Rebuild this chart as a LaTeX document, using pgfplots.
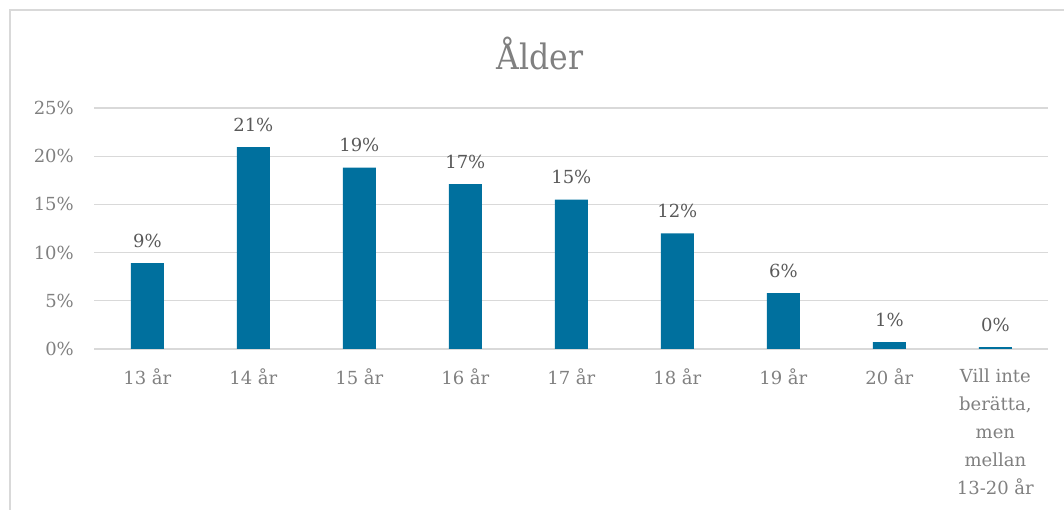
\documentclass[border=0pt]{standalone}
\usepackage{fontspec}
\setmainfont{DejaVu Serif}
\newfontfamily\titlefont{DejaVu Serif Condensed}
\usepackage{pgfplots}
\pgfplotsset{compat=1.18}
\definecolor{barblue}{RGB}{0,112,158}
\definecolor{gridgray}{RGB}{217,217,217}
\definecolor{ticktext}{RGB}{128,128,128}
\definecolor{labeltext}{RGB}{89,89,89}
\begin{document}
\begin{tikzpicture}[x=1pt,y=1pt]
\useasboundingbox (0,0) rectangle (1064,509);
% chart frame, cropped at right and bottom like the original
\draw[gridgray, line width=1.2pt] (10,-20) rectangle (1090,499);
\node[font=\titlefont\fontsize{35}{40}\selectfont, text=ticktext] at (540,455) {Ålder};
\begin{axis}[
    at={(89,166)}, anchor=south west,
    scale only axis, width=954pt, height=241pt,
    xmin=-0.5, xmax=8.5, ymin=0, ymax=25,
    ybar, bar width=33pt,
    axis x line*=bottom, axis y line*=left,
    x axis line style={gridgray, line width=1.2pt},
    y axis line style={draw=none},
    major tick length=0pt,
    ymajorgrids, grid style={gridgray, line width=1.2pt},
    ytick={0,5,10,15,20,25},
    yticklabels={0\%,5\%,10\%,15\%,20\%,25\%},
    xtick={0,...,8},
    xticklabels={13 år,14 år,15 år,16 år,17 år,18 år,19 år,20 år,{Vill inte\\berätta,\\men\\mellan\\13-20 år}},
    ticklabel style={font=\fontsize{18}{28}\selectfont, text=ticktext},
    yticklabel style={xshift=-17pt},
    xticklabel style={align=center, yshift=-16pt},
    point meta=explicit symbolic,
    nodes near coords,
    nodes near coords style={font=\fontsize{18}{22}\selectfont, text=labeltext, anchor=south, yshift=12pt},
]
\addplot[fill=barblue, draw=none] coordinates {
    (0,8.9) [9\%]
    (1,20.95) [21\%]
    (2,18.8) [19\%]
    (3,17.1) [17\%]
    (4,15.5) [15\%]
    (5,12.0) [12\%]
    (6,5.8) [6\%]
    (7,0.7) [1\%]
    (8,0.2) [0\%]
};
\end{axis}
\end{tikzpicture}
\end{document}
